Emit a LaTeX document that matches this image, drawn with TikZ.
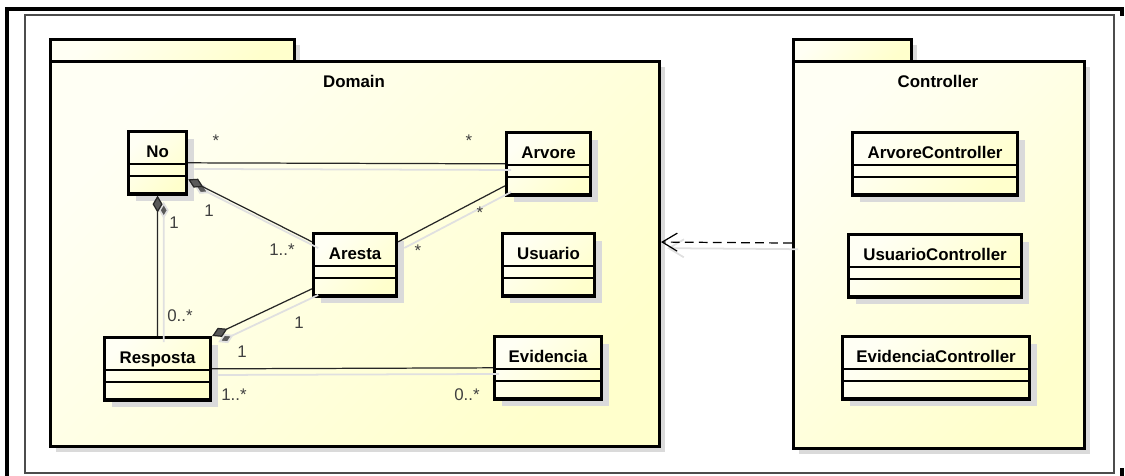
\documentclass[tikz,border=0pt]{standalone}
\usepackage{fontspec}
\setmainfont{Liberation Sans}
\usetikzlibrary{arrows.meta,shadows}
\definecolor{umlpale}{RGB}{255,255,244}
\definecolor{umlyellow}{RGB}{255,255,204}
\definecolor{umlshadow}{RGB}{218,218,218}
\newcommand{\umlname}{\fontsize{9.6}{11}\selectfont\bfseries}
\newcommand{\umlmult}{\fontsize{9.6}{11}\selectfont}
\tikzset{
    umlfill/.style={top color=umlpale, bottom color=umlyellow, shading angle=45},
    umlpackage/.style={draw, line width=1.8pt, umlfill, anchor=north west, inner sep=0pt,
        drop shadow={shadow xshift=3pt, shadow yshift=-3pt, fill=umlshadow, opacity=1}},
    umlclass/.style={draw, line width=1.8pt, umlfill, anchor=north west, inner sep=0pt,
        text height=0.52cm, text depth=0.73cm, font=\umlname,
        drop shadow={shadow xshift=4pt, shadow yshift=-4pt, fill=umlshadow, opacity=1}},
    mult/.style={text=black!75, inner sep=1pt, font=\umlmult},
    lineshadow/.style={preaction={draw=black!12, line width=1pt, transform canvas={shift={(3.5pt,-3.5pt)}}}},
    assoc/.style={draw=black!85, line width=0.7pt, lineshadow},
    compose/.style={assoc, {Diamond[length=0.34cm, width=0.2cm, fill=black!65]}-},
    depend/.style={draw, line width=0.7pt, dash pattern=on 5pt off 3pt, lineshadow,
        -{Straight Barb[length=0.3cm, width=0.36cm]}},
}
\begin{document}
\begin{tikzpicture}[x=0.02cm, y=-0.02cm]
    \useasboundingbox (0,0) rectangle (1125,476);
    % frame
    \draw[line width=1.9pt] (7,476) -- (7,9) -- (1122,9) -- (1122,16);
    \draw[black!70, line width=0.7pt] (25,15) rectangle (1114,473);
    \fill (1120,468) rectangle (1124,476);
    % packages
    \node[umlpackage, minimum width=4.88cm, minimum height=0.44cm] (domaintab) at (49,38) {};
    \node[umlpackage, minimum width=12.18cm, minimum height=7.7cm] (domain) at (49,60) {};
    \node[font=\umlname] (domainlbl) at (354,81) {Domain};
    \node[umlpackage, minimum width=2.36cm, minimum height=0.44cm] (controllertab) at (792,38) {};
    \node[umlpackage, minimum width=5.82cm, minimum height=7.74cm] (controller) at (792,60) {};
    \node[font=\umlname] (controllerlbl) at (938,81) {Controller};
    % classes
    \node[umlclass, minimum width=1.16cm] (no) at (127,130) {No};
    \node[umlclass, minimum width=1.68cm] (arvore) at (505,131) {Arvore};
    \node[umlclass, minimum width=1.66cm] (aresta) at (312,232) {Aresta};
    \node[umlclass, minimum width=1.84cm] (usuario) at (501,232) {Usuario};
    \node[umlclass, minimum width=2.12cm] (resposta) at (103,336) {Resposta};
    \node[umlclass, minimum width=2.14cm] (evidencia) at (493,335) {Evidencia};
    \node[umlclass, minimum width=3.30cm] (arvorectl) at (851,131) {ArvoreController};
    \node[umlclass, minimum width=3.46cm] (usuarioctl) at (847,233) {UsuarioController};
    \node[umlclass, minimum width=3.74cm] (evidenciactl) at (841,335) {EvidenciaController};
    \foreach \c in {no,arvore,aresta,usuario,resposta,evidencia,arvorectl,usuarioctl,evidenciactl}{
        \draw[line width=0.9pt] ([yshift=-0.68cm]\c.north west) -- ([yshift=-0.68cm]\c.north east);
        \draw[line width=0.9pt] ([yshift=-0.92cm]\c.north west) -- ([yshift=-0.92cm]\c.north east);
    }
    % connectors
    \draw[assoc] (no.east) -- (arvore.west);
    \draw[compose] ([yshift=-0.33cm]no.east) -- ([yshift=0.46cm]aresta.west);
    \draw[compose] (no.south) -- (resposta.north);
    \draw[assoc] ([yshift=0.46cm]aresta.east) -- ([yshift=-0.44cm]arvore.west);
    \draw[compose] (resposta.north east) -- ([yshift=-0.48cm]aresta.west);
    \draw[assoc] (resposta.east) -- (evidencia.west);
    \draw[depend] ([yshift=0.24cm]controller.west) -- ([yshift=0.24cm]domain.east);
    % multiplicities
    \node[mult] (noarv1) at (216,141) {*};
    \node[mult] (noarv2) at (469,141) {*};
    \node[mult] (noare1) at (209,211) {1};
    \node[mult] (noare2) at (282,250) {1..*};
    \node[mult] (nores1) at (174,223) {1};
    \node[mult] (nores2) at (180,316) {0..*};
    \node[mult] (arearv1) at (418,251) {*};
    \node[mult] (arearv2) at (480,213) {*};
    \node[mult] (resare1) at (242,352) {1};
    \node[mult] (resare2) at (299,323) {1};
    \node[mult] (reseviA) at (234,395) {1..*};
    \node[mult] (reseviB) at (467,395) {0..*};
\end{tikzpicture}
\end{document}
